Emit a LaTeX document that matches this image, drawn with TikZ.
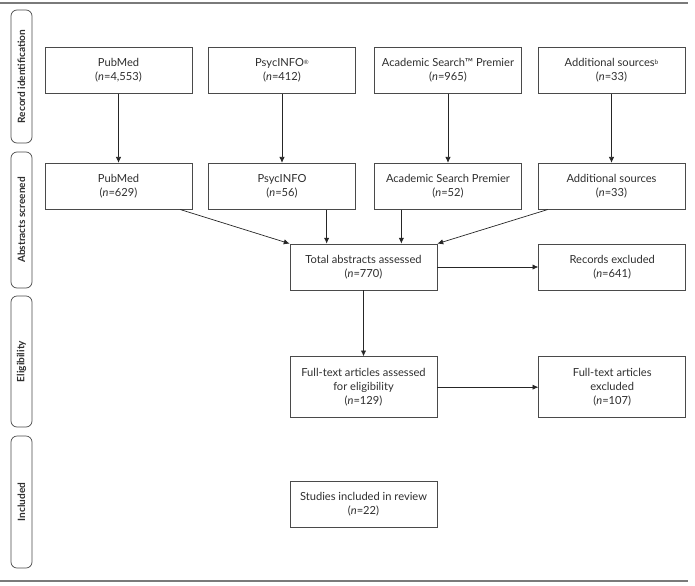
\documentclass[tikz,border=0pt]{standalone}
\usepackage{fontspec}
\setmainfont{Lato}
\usetikzlibrary{
    arrows.meta,
    positioning,
    calc
}
\definecolor{Bline}{HTML}{4A4A4A}
\definecolor{Rule}{HTML}{7A7A7A}
\definecolor{Tdark}{HTML}{2E2E2E}

\tikzset{
    box/.style={draw=Bline, line width=0.6pt, text=Tdark, align=center,
        minimum width=44.1mm, minimum height=13.8mm, inner sep=2pt,
        font=\fontsize{9.5}{11.8}\selectfont},
    tallbox/.style={box, minimum height=18.3mm},
    phase/.style={draw=Bline, line width=0.6pt, rounded corners=1.8mm, rotate=90,
        minimum height=6.3mm, inner sep=1pt, text=Tdark,
        font=\fontsize{8.6}{10}\selectfont\bfseries},
    arr/.style={-{Latex[length=5pt,width=4.5pt]}, line width=0.6pt, draw=black!85}
}

\begin{document}
\begin{tikzpicture}[x=0.3mm, y=-0.3mm]

\useasboundingbox (0,0) rectangle (695,585);

% top and bottom rules
\draw[Rule, line width=1.2pt] (0,3) -- (688,3);
\draw[Rule, line width=1.2pt] (0,581) -- (688,581);

% phase labels (left column)
\node[phase, minimum width=39.9mm] (ph1) at (21.5,76.5)  {Record identification};
\node[phase, minimum width=40.8mm] (ph2) at (21.5,220)   {Abstracts screened};
\node[phase, minimum width=39.3mm] (ph3) at (21.5,361.5) {Eligibility};
\node[phase, minimum width=39.6mm] (ph4) at (21.5,502)   {Included};

% record identification
\node[box] (pm1) at (118.5,70.5) {PubMed\\(\textit{n}=4,553)};
\node[box] (ps1) at (282,70.5)   {PsycINFO{\fontsize{5}{5}\selectfont\raisebox{0.7ex}{®}}\\(\textit{n}=412)};
\node[box] (as1) at (448,70.5)   {Academic Search™ Premier\\(\textit{n}=965)};
\node[box] (ad1) at (611.5,70.5) {Additional sources{\fontsize{5.5}{5}\selectfont\raisebox{0.7ex}{b}}\\(\textit{n}=33)};

% abstracts screened
\node[box, below=20.7mm of pm1] (pm2) {PubMed\\(\textit{n}=629)};
\node[box, below=20.7mm of ps1] (ps2) {PsycINFO\\(\textit{n}=56)};
\node[box, below=20.7mm of as1] (as2) {Academic Search Premier\\(\textit{n}=52)};
\node[box, below=20.7mm of ad1] (ad2) {Additional sources\\(\textit{n}=33)};

\node[box] (tot) at (363.5,267) {Total abstracts assessed\\(\textit{n}=770)};
\node[box, right=30.3mm of tot] (rex) {Records excluded\\(\textit{n}=641)};

% eligibility + included
\node[tallbox, below=19.8mm of tot] (ft)  {Full-text articles assessed\\for eligibility\\(\textit{n}=129)};
\node[tallbox, right=30.3mm of ft]  (fex) {Full-text articles\\excluded\\(\textit{n}=107)};
\node[box, below=18.9mm of ft]      (inc) {Studies included in review\\(\textit{n}=22)};

% arrows
\foreach \s in {pm,ps,as,ad}
    \draw[arr] (\s1) -- (\s2);

\coordinate (psin) at ($(tot.north west)+(37,0)$);
\coordinate (asin) at ($(tot.north east)+(-36,0)$);
\draw[arr] ($(pm2.south east)+(-12,0)$) -- (tot.north west);
\draw[arr] (psin |- ps2.south) -- (psin);
\draw[arr] (asin |- as2.south) -- (asin);
\draw[arr] ($(ad2.south west)+(10,0)$) -- (tot.north east);

\draw[arr] (tot) -- (rex);
\draw[arr] (tot) -- (ft);
\draw[arr] (ft) -- (fex);

\end{tikzpicture}
\end{document}
